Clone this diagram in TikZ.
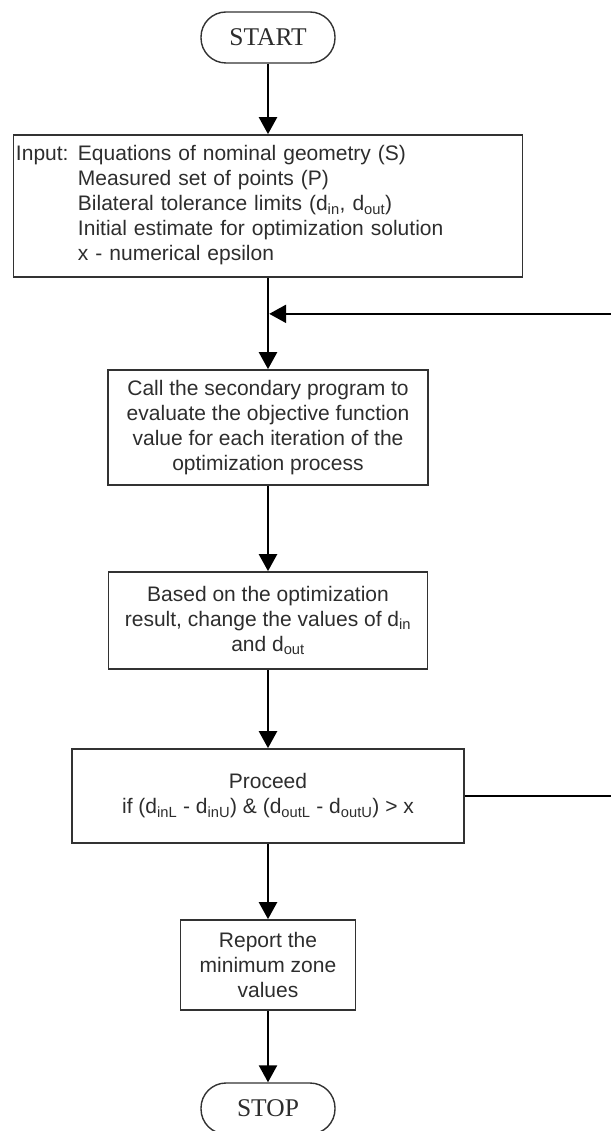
\documentclass[tikz,border=0pt]{standalone}
\usepackage{fontspec}
\setmainfont{Liberation Sans}
\newfontfamily\termfont{Liberation Serif}
\usetikzlibrary{arrows.meta}
\definecolor{inkgray}{RGB}{45,45,45}
\definecolor{framegray}{RGB}{50,50,50}
\begin{document}
\begin{tikzpicture}[x=1pt,y=-1pt,
  every node/.style={text=inkgray, font=\fontsize{21}{25}\selectfont},
  procbox/.style={draw=framegray, line width=1.7pt, rectangle, inner sep=0pt, align=center},
  terminal/.style={draw=framegray, line width=1.4pt, rectangle, rounded corners=25pt,
    inner sep=0pt, minimum width=134pt, minimum height=51pt,
    font=\termfont\fontsize{25.5}{30}\selectfont},
  flow/.style={draw=black, line width=2.4pt, -{Triangle[length=17pt,width=18pt]}}
]
\useasboundingbox (0,0) rectangle (610,1131);

% start / stop terminals
\node[terminal] (start) at (268,37.5) {START};
\node[terminal] (stop) at (268,1108.5) {STOP};

% input data block
\node[procbox, minimum width=509pt, minimum height=142pt, text width=504pt, align=left]
  (input) at (268,206)
  {\begin{tabular}{@{}l@{\hspace{0.45em}}l@{}}
   Input: & Equations of nominal geometry (S)\\
          & Measured set of points (P)\\
          & Bilateral tolerance limits (d\textsubscript{in}, d\textsubscript{out})\\
          & Initial estimate for optimization solution\\
          & x - numerical epsilon
   \end{tabular}};

% processing steps
\node[procbox, minimum width=320pt, minimum height=115pt] (call) at (268,427.5)
  {Call the secondary program to\\evaluate the objective function\\value for each iteration of the\\optimization process};
\node[procbox, minimum width=319pt, minimum height=97pt] (update) at (268,620.5)
  {Based on the optimization\\result, change the values of d\textsubscript{in}\\and d\textsubscript{out}};
\node[procbox, minimum width=392pt, minimum height=94pt] (proceed) at (268,796)
  {Proceed\\if (d\textsubscript{inL} - d\textsubscript{inU}) \& (d\textsubscript{outL} - d\textsubscript{outU}) > x};
\node[procbox, minimum width=175pt, minimum height=90pt] (report) at (268,965)
  {Report the\\minimum zone\\values};

% main flow
\draw[flow] (start) -- (input);
\draw[flow] (input) -- (call);
\draw[flow] (call) -- (update);
\draw[flow] (update) -- (proceed);
\draw[flow] (proceed) -- (report);
\draw[flow] (report) -- (stop);

% loop back to the optimization call
\path (input.south) ++(0,36) coordinate (join);
\draw[flow] (proceed.east) -- ++(150,0) |- ([xshift=1.2pt]join);
\end{tikzpicture}
\end{document}
